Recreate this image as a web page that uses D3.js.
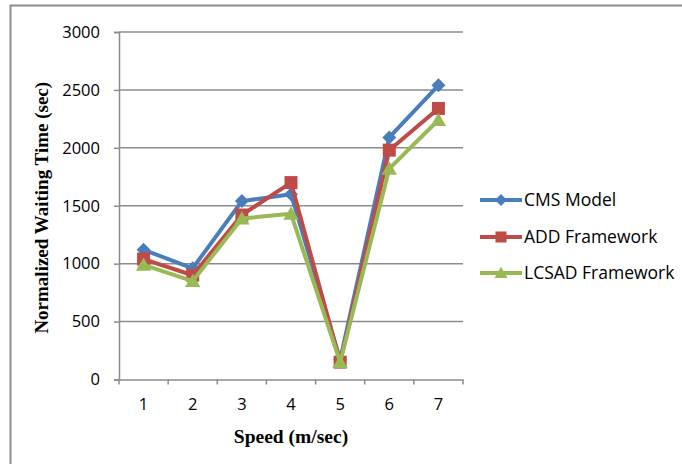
<!DOCTYPE html>
<html><head><meta charset="utf-8">
<script src="https://cdn.jsdelivr.net/npm/d3@7"></script>
<style>body{margin:0;background:#fff}svg{display:block}</style>
</head><body><svg id="c" width="682" height="464"></svg>
<script>
const categories = ["1","2","3","4","5","6","7"];
const yTicks = [0,500,1000,1500,2000,2500,3000];
const cms = [1120, 960, 1540, 1600, 170, 2090, 2540];
const add = [1040, 900, 1420, 1700, 150, 1980, 2340];
const lcsad = [990, 850, 1390, 1430, 150, 1820, 2240];
const seriesNames = ["CMS Model","ADD Framework","LCSAD Framework"];

(function(){
const series = [
  {name: seriesNames[0], values: cms, color: "#4a7ebb", marker: "diamond"},
  {name: seriesNames[1], values: add, color: "#be4b48", marker: "square"},
  {name: seriesNames[2], values: lcsad, color: "#98b954", marker: "triangle"}
];

const svg = d3.select("#c");
const pL = 119, pR = 463, pT = 32, pB = 379.5;
const x = d3.scaleBand().domain(categories).range([pL, pR]);
const y = d3.scaleLinear().domain([0, 3000]).range([pB, pT]);

// outer border
svg.append("path").attr("d", "M10.5,470 L10.5,5.5 L690,5.5").attr("fill","none").attr("stroke","#8c8c8c").attr("stroke-width",2);

// gridlines
svg.append("g").selectAll("line").data(yTicks.filter(d=>d>0)).join("line")
  .attr("x1", pL).attr("x2", pR).attr("y1", d=>y(d)).attr("y2", d=>y(d))
  .attr("stroke","#8c8c8c").attr("stroke-width",1.5);

// y axis
const yAxis = svg.append("g").attr("transform",`translate(${pL},0)`)
  .call(d3.axisLeft(y).tickValues(yTicks).tickFormat(d3.format("d")).tickSize(5).tickPadding(14));
yAxis.attr("font-size",null).attr("font-family",null);
yAxis.select(".domain").attr("stroke","#8c8c8c").attr("stroke-width",1.5);
yAxis.selectAll(".tick line").attr("stroke","#8c8c8c").attr("stroke-width",1.5);
yAxis.selectAll("text").style("font-family","'Open Sans', sans-serif").style("font-size","16.5px").attr("fill","#000");

// x axis
const xAxis = svg.append("g").attr("transform",`translate(0,${pB})`)
  .call(d3.axisBottom(x).tickSize(0).tickPadding(19));
xAxis.attr("font-size",null).attr("font-family",null);
xAxis.select(".domain").attr("stroke","#8c8c8c").attr("stroke-width",1.5);
xAxis.selectAll("text").style("font-family","'Open Sans', sans-serif").style("font-size","16.5px").attr("fill","#000");
const bounds = [...categories.map(c=>x(c)), pR];
xAxis.append("g").selectAll("line").data(bounds).join("line")
  .attr("x1", d=>d).attr("x2", d=>d).attr("y1",0).attr("y2",5)
  .attr("stroke","#8c8c8c").attr("stroke-width",1.5);

// titles
svg.append("text").attr("x", (pL+pR)/2).attr("y", 443).attr("text-anchor","middle")
  .style("font-family","'Liberation Serif', serif").attr("font-weight","bold").style("font-size","19.5px")
  .text("Speed (m/sec)");
svg.append("text").attr("transform",`translate(48,${(pT+pB)/2+2}) rotate(-90)`).attr("text-anchor","middle")
  .style("font-family","'Liberation Serif', serif").attr("font-weight","bold").style("font-size","19px")
  .text("Normalized Waiting Time (sec)");

const cx = c => x(c) + x.bandwidth()/2;
function markerPath(type, s) {
  if (type === "diamond") return `M0,${-s} L${s},0 L0,${s} L${-s},0 Z`;
  if (type === "square") return `M${-s},${-s} H${s} V${s} H${-s} Z`;
  return `M0,${-s*1.05} L${s*1.1},${s*0.85} L${-s*1.1},${s*0.85} Z`;
}
const sizes = {diamond: 7, square: 6.5, triangle: 7};
const line = d3.line().x((d,i)=>cx(categories[i])).y(d=>y(d));

series.forEach(s => {
  const g = svg.append("g");
  g.append("path").attr("d", line(s.values)).attr("fill","none").attr("stroke", s.color)
    .attr("stroke-width",4).attr("stroke-linejoin","round");
  g.selectAll("path.m").data(s.values).join("path").attr("class","m")
    .attr("transform",(d,i)=>`translate(${cx(categories[i])},${y(d)})`)
    .attr("d", markerPath(s.marker, sizes[s.marker])).attr("fill", s.color);
});

// legend
const legY = [200, 237, 273];
series.forEach((s,i) => {
  const g = svg.append("g").attr("transform",`translate(480,${legY[i]})`);
  g.append("line").attr("x1",0).attr("x2",42).attr("y1",0).attr("y2",0).attr("stroke",s.color).attr("stroke-width",4);
  g.append("path").attr("transform","translate(21,0)").attr("d", markerPath(s.marker, sizes[s.marker]*0.85)).attr("fill",s.color);
  g.append("text").attr("x",44).attr("y",6).style("font-family","'Open Sans', sans-serif").style("font-size","17.5px").attr("fill","#000").text(s.name);
});
})();
</script></body></html>
